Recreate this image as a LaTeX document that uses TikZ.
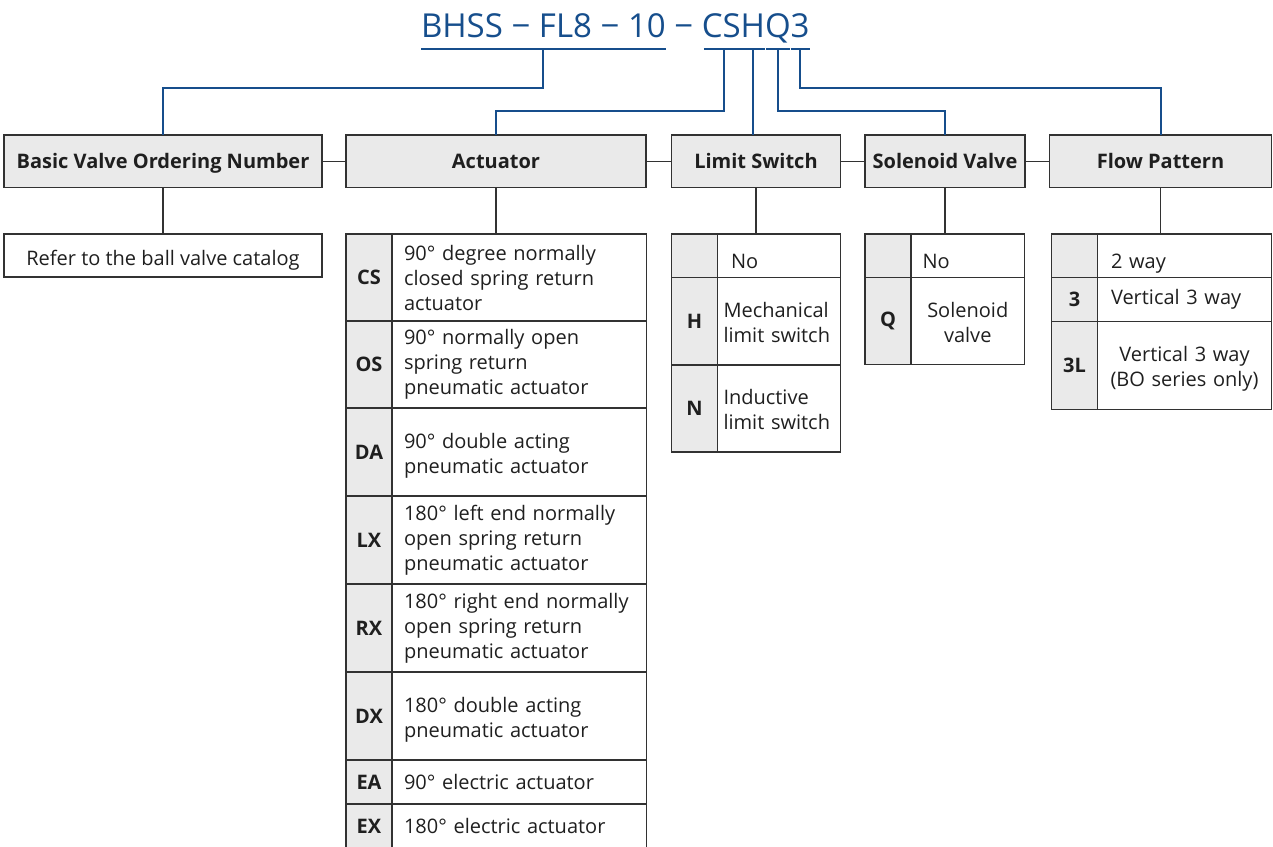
\documentclass[tikz,border=0pt]{standalone}
\usepackage{fontspec}
\setmainfont{Open Sans}
\usepackage{xcolor}
\usepackage{tikz}
\usetikzlibrary{positioning}

\definecolor{codeblue}{RGB}{22,78,140}
\definecolor{cellgray}{RGB}{234,234,234}
\definecolor{rulegray}{RGB}{50,50,50}

\begin{document}
\begin{tikzpicture}
            [x=1pt, y=-1pt,
            every node/.style={inner sep=0pt, outer sep=0pt, text=black!88, font=\fontsize{20}{25}\selectfont},
            title/.style={text=codeblue, font=\fontsize{33}{40}\selectfont, anchor=base west},
            head/.style={draw=rulegray, fill=cellgray, line width=1.2pt, minimum height=52.5pt,
                text height=16pt, text depth=2pt,
                anchor=north west, font=\bfseries\fontsize{20}{25}\selectfont},
            plain/.style={draw=rulegray, line width=1.2pt, anchor=north west},
            code/.style={plain, fill=cellgray, minimum width=46pt, font=\bfseries\fontsize{20}{25}\selectfont},
            desc/.style={plain, align=left, inner xsep=12pt},
            lowtext/.style={text height=26pt, text depth=0pt},
            twoline/.style={text depth=23pt},
            blueline/.style={draw=codeblue, line width=2pt},
            link/.style={draw=rulegray, line width=1.2pt}]

            \clip (0,0) rectangle (1273,846);

            \node[title] (base) at (421,37) {BHSS − FL8 − 10};
            \node[title] (sep) at (base.base east) {\ −\ \null};
            \node[title] (cs) at (sep.base east) {CS};
            \node[title] (h) at (cs.base east) {H};
            \node[title] (q) at (h.base east) {Q};
            \node[title] (fp) at (q.base east) {3};

            \coordinate (ubase) at ([yshift=-12pt]base.base);
            \coordinate (ucs) at ([yshift=-12pt,xshift=3pt]cs.base);
            \coordinate (uh) at ([yshift=-12pt]h.base);
            \coordinate (uq) at ([yshift=-12pt]q.base);
            \coordinate (ufp) at ([yshift=-12pt]fp.base);

            \draw[blueline] ([yshift=-12pt]base.base west) -- ([yshift=-12pt]base.base east);
            \draw[blueline] ([yshift=-12pt,xshift=2pt]cs.base west) -- ([yshift=-12pt,xshift=2pt]cs.base east);
            \draw[blueline] ([yshift=-12pt]h.base west) -- ([yshift=-12pt]h.base east);
            \draw[blueline] ([yshift=-12pt,xshift=1pt]q.base west) -- ([yshift=-12pt,xshift=-1pt]q.base east);
            \draw[blueline] ([yshift=-12pt]fp.base west) -- ([yshift=-12pt]fp.base east);

            \node[head, minimum width=318pt] (basic) at (4,135) {Basic Valve Ordering Number};
            \node[head, minimum width=300pt] (act) at (346,135) {Actuator};
            \node[head, minimum width=169pt] (limit) at (671.5,135) {Limit Switch};
            \node[head, minimum width=160pt] (sol) at (865,135) {Solenoid Valve};
            \node[head, minimum width=222pt] (flow) at (1049.5,135) {Flow Pattern};

            \draw[blueline] (ubase) -- ++(0,39) -| (basic.north);
            \draw[blueline] (ucs) -- ++(0,62) -| (act.north);
            \draw[blueline] (uh) -- (uh |- limit.north);
            \draw[blueline] (uq) -- ++(0,62) -| (sol.north);
            \draw[blueline] (ufp) -- ++(0,39) -| (flow.north);

            \draw[link] (basic.east) -- (act.west);
            \draw[link] (act.east) -- (limit.west);
            \draw[link] (limit.east) -- (sol.west);
            \draw[link] (sol.east) -- (flow.west);

            \node[plain, minimum width=318pt, minimum height=43pt, text height=19pt, text depth=0pt] (refer) at (4,234) {Refer to the ball valve catalog};

            \node[code, minimum height=87pt] (cscode) at (346,234) {CS};
            \node[desc, minimum height=87pt, text width=230.5pt] (csdesc) at (cscode.north east) {90° degree normally\\closed spring return\\actuator};
            \node[code, minimum height=87pt] (oscode) at (cscode.south west) {OS};
            \node[desc, minimum height=87pt, text width=230.5pt] (osdesc) at (oscode.north east) {90° normally open\\spring return\\pneumatic actuator};
            \node[code, minimum height=88pt] (dacode) at (oscode.south west) {DA};
            \node[desc, twoline, minimum height=88pt, text width=230.5pt] (dadesc) at (dacode.north east) {90° double acting\\pneumatic actuator};
            \node[code, minimum height=88pt] (lxcode) at (dacode.south west) {LX};
            \node[desc, minimum height=88pt, text width=230.5pt] (lxdesc) at (lxcode.north east) {180° left end normally\\open spring return\\pneumatic actuator};
            \node[code, minimum height=88pt] (rxcode) at (lxcode.south west) {RX};
            \node[desc, minimum height=88pt, text width=230.5pt] (rxdesc) at (rxcode.north east) {180° right end normally\\open spring return\\pneumatic actuator};
            \node[code, minimum height=88pt] (dxcode) at (rxcode.south west) {DX};
            \node[desc, twoline, minimum height=88pt, text width=230.5pt] (dxdesc) at (dxcode.north east) {180° double acting\\pneumatic actuator};
            \node[code, minimum height=44pt] (eacode) at (dxcode.south west) {EA};
            \node[desc, minimum height=44pt, text width=230.5pt] (eadesc) at (eacode.north east) {90° electric actuator};
            \node[code, minimum height=44pt] (excode) at (eacode.south west) {EX};
            \node[desc, minimum height=44pt, text width=230.5pt] (exdesc) at (excode.north east) {180° electric actuator};

            \node[code, minimum height=43.5pt] (lnocode) at (671.5,234) {};
            \node[desc, lowtext, minimum height=43.5pt, text width=96pt, inner xsep=13.5pt] (lnodesc) at (lnocode.north east) {No};
            \node[code, minimum height=87.5pt] (hcode) at (lnocode.south west) {H};
            \node[desc, twoline, minimum height=87.5pt, text width=111pt, inner xsep=6pt] (hdesc) at (hcode.north east) {Mechanical\\limit switch};
            \node[code, minimum height=87pt] (ncode) at (hcode.south west) {N};
            \node[desc, twoline, minimum height=87pt, text width=111pt, inner xsep=6pt] (ndesc) at (ncode.north east) {Inductive\\limit switch};

            \node[code, minimum height=43.5pt] (snocode) at (865,234) {};
            \node[desc, lowtext, minimum height=43.5pt, text width=90.5pt, inner xsep=11.5pt] (snodesc) at (snocode.north east) {No};
            \node[code, minimum height=87pt] (qcode) at (snocode.south west) {Q};
            \node[desc, twoline, minimum height=87pt, text width=101.5pt, inner xsep=6pt, align=center] (qdesc) at (qcode.north east) {Solenoid\\valve};

            \node[code, minimum height=43.5pt] (twocode) at (1051.5,234) {};
            \node[desc, lowtext, minimum height=43.5pt, text width=147pt, inner xsep=13.5pt] (twodesc) at (twocode.north east) {2 way};
            \node[code, minimum height=44pt] (threecode) at (twocode.south west) {3};
            \node[desc, minimum height=44pt, text width=147pt, inner xsep=13.5pt] (threedesc) at (threecode.north east) {Vertical 3 way};
            \node[code, minimum height=88pt] (tlcode) at (threecode.south west) {3L};
            \node[desc, twoline, minimum height=88pt, text width=162pt, inner xsep=6pt, align=center] (tldesc) at (tlcode.north east) {Vertical 3 way\\(BO series only)};

            \draw[link] (basic.south) -- (refer.north);
            \draw[link] (act.south) -- (act.south |- cscode.north);
            \draw[link] (limit.south) -- (limit.south |- lnocode.north);
            \draw[link] (sol.south) -- (sol.south |- snocode.north);
            \draw[link] (flow.south) -- (flow.south |- twocode.north);
\end{tikzpicture}
\end{document}
